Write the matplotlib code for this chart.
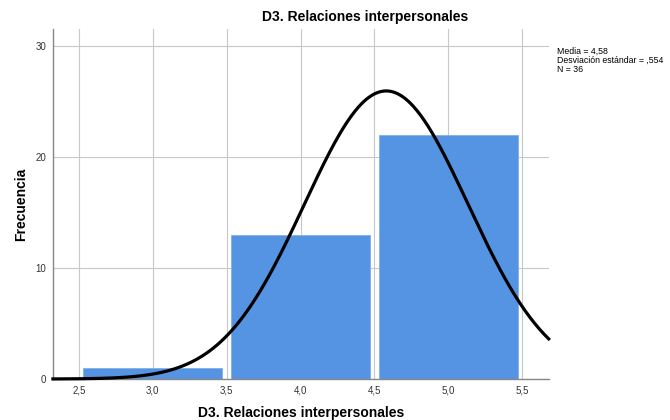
import numpy as np
import matplotlib
matplotlib.use("Agg")
import matplotlib.pyplot as plt

plt.rcParams['font.family'] = ['Liberation Sans', 'DejaVu Sans']

bin_centers = [3.0, 4.0, 5.0]
counts = [1, 13, 22]
mean = 4.58
sd = 0.554
n = 36
bin_width = 1.0
xticks = [2.5, 3.0, 3.5, 4.0, 4.5, 5.0, 5.5]
xticklabels = ["2,5", "3,0", "3,5", "4,0", "4,5", "5,0", "5,5"]
yticks = [0, 10, 20, 30]

fig = plt.figure(figsize=(6.7, 4.2), dpi=100)
ax = fig.add_axes([0.079, 0.0976, 0.74, 0.8334])
xmin, xmax = 2.324, 5.68
ax.set_xlim(xmin, xmax)
ax.set_ylim(0, 31.5)

ax.bar(bin_centers, counts, width=0.94 * bin_width, color='#5494E2',
       edgecolor='#7FB0EA', linewidth=0.6, zorder=2)

xs = np.linspace(xmin, xmax, 400)
ys = n * bin_width / (sd * np.sqrt(2 * np.pi)) * np.exp(-0.5 * ((xs - mean) / sd) ** 2)
ax.plot(xs, ys, color='black', linewidth=2.3, zorder=3, clip_on=False)

ax.set_xticks(xticks)
ax.set_xticklabels(xticklabels)
ax.set_yticks(yticks)
ax.grid(True, color='#C8C8C8', linewidth=0.8, zorder=0)
ax.set_axisbelow(True)
for s in ['top', 'right']:
    ax.spines[s].set_visible(False)
for s in ['left', 'bottom']:
    ax.spines[s].set_color('#888888')
    ax.spines[s].set_linewidth(1.0)
ax.tick_params(axis='both', length=0, labelsize=7, colors='#333333', pad=5)

fig.text(365 / 670, 1 - 17 / 420, "D3. Relaciones interpersonales", fontsize=10,
         fontweight='bold', ha='center', va='center')
ax.set_xlabel("D3. Relaciones interpersonales", fontsize=10, fontweight='bold', labelpad=7)
ax.set_ylabel("Frecuencia", fontsize=10, fontweight='bold', labelpad=5)

fig.text(557/670, 1 - 47/420, "Media = 4,58\nDesviación estándar = ,554\nN = 36",
         fontsize=6.3, va='top', ha='left', linespacing=1.0)

fig.savefig("out.png", dpi=100)
